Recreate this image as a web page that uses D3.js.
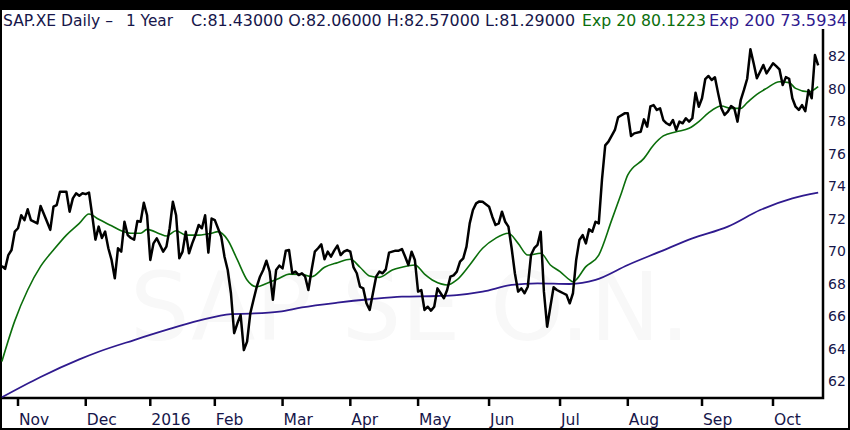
<!DOCTYPE html>
<html>
<head>
<meta charset="utf-8">
<script src="https://cdn.jsdelivr.net/npm/d3@7"></script>
<style>
  body { margin: 0; background: #000; }
  svg { display: block; }
  text { font-family: "DejaVu Sans", Verdana, sans-serif; white-space: pre; }
</style>
</head>
<body>
<svg id="chart"></svg>
<script>
// trading day index (0 = 26 Oct 2015) and closing price
let closeDay = [0,1,2,3,4,5,6,7,8,9,11,12,14,15,16,17,18,20,21,22,23,24,25,26,27,28,29,30,31,32,33,34,35,36,37,38,39,40,41,42,43,44,45,46,47,48,50,51,52,53,54,55,56,57,58,59,60,61,62,63,64,65,66,68,69,70,71,72,73,74,75,76,77,78,79,80,81,82,83,84,85,86,87,88,89,90,91,92,93,94,95,96,97,98,99,100,101,102,103,104,105,106,107,108,109,110,111,112,113,114,115,116,117,118,119,120,122,123,124,125,126,127,128,129,130,131,132,133,134,135,136,137,138,139,140,141,142,143,144,145,146,147,148,149,151,152,153,154,155,156,157,158,159,160,161,162,163,164,165,166,167,168,169,170,171,172,173,174,175,176,177,178,179,180,181,182,183,184,185,186,187,188,190,191,193,194,195,196,198,199,200,201,202,203,204,205,206,207,208,209,210,211,212,213,214,215,216,217,218,219,220,221,222,223,224,225,226,227,228,229,230,231,232,233,234,235,236,237,238,239,240,241,242,243,244,245,246,247,248,249,250,251,252,253];
let closeVal = [69.08,68.9,69.75,70.06,71.19,71.4,72.2,71.9,72.57,71.9,71.7,72.77,71.8,71.3,72.73,72.83,73.65,73.65,72.42,73.24,73.55,73.4,73.55,73.5,73.6,72.2,70.7,71.5,70.8,71.2,70.17,69.45,68.32,70.17,69.96,71.8,70.98,70.8,70.7,71.85,71.8,72.97,72.2,69.45,70.47,70.78,69.96,70.27,71.4,73.03,72.2,69.55,69.96,71.19,69.86,70.47,70.98,71.6,71.4,72.2,69.9,72.0,71.9,70.88,69.65,68.83,67.4,64.94,65.55,66.06,63.9,64.42,66.17,67.0,67.8,68.42,68.83,69.4,68.73,67.0,68.83,69.1,68.93,70.02,70.06,68.63,68.73,68.52,68.63,68.42,67.6,68.83,69.96,70.17,70.41,69.49,69.96,69.65,70.02,70.33,69.75,69.96,70.06,69.96,68.99,68.63,67.8,67.7,66.78,66.37,67.4,68.42,68.73,68.63,68.87,69.9,70.02,70.02,70.12,69.65,69.14,69.96,69.45,67.5,67.6,66.37,66.57,66.33,66.57,67.7,67.4,67.09,67.6,68.42,68.5,68.73,69.34,69.55,70.27,71.7,72.52,72.93,73.05,73.03,72.73,72.11,71.6,71.7,72.42,71.8,71.5,70.17,68.63,67.5,67.7,67.4,67.8,69.75,70.17,70.37,71.19,67.5,65.34,66.57,67.77,67.6,67.5,67.4,67.3,66.78,67.4,69.45,70.68,70.98,70.47,71.33,71.19,71.8,71.7,74.4,76.5,76.73,77.45,78.23,78.47,78.47,77.08,77.24,77.34,78.1,77.65,78.9,78.98,78.68,78.78,78.06,77.86,77.75,78.06,77.45,77.96,77.86,78.17,77.96,78.17,79.74,78.88,79.4,80.57,80.77,80.52,80.69,79.7,78.78,78.37,78.57,78.92,78.78,77.96,79.29,79.91,80.6,82.41,81.55,80.63,81.03,81.45,80.93,81.24,81.55,81.38,81.18,80.22,80.7,80.6,79.4,78.88,78.68,78.98,78.6,79.9,79.4,82.06,81.43];

// Exp 20
let ema20Day = [0,4,8,12,16,20,24,27,30,34,37,40,43,45,49,51,54,57,61,65,67,70,73,76,79,82,86,89,93,96,100,104,108,111,114,117,121,124,128,131,134,138,141,145,149,153,157,160,163,167,170,173,176,177,181,185,189,192,194,199,202,205,209,213,216,219,223,226,229,231,234,237,241,244,246,250,253];
let ema20Val = [63.2,65.7,67.6,69.05,70.06,70.98,71.7,72.28,71.95,71.55,71.25,71.09,71.09,71.33,71.05,70.92,71.25,70.98,70.98,71.09,71.19,70.68,69.45,68.22,67.8,68.0,68.32,68.58,68.56,68.42,69.0,69.28,69.49,69.0,68.46,68.38,68.83,69.0,69.14,68.58,68.15,67.91,68.22,69.14,70.17,70.78,71.09,70.47,69.75,69.86,69.14,68.73,68.22,68.11,69.04,69.75,71.9,73.55,74.68,75.7,76.52,77.08,77.34,77.55,77.96,78.5,78.92,78.78,78.78,79.13,79.64,80.01,80.42,80.36,80.01,79.8,80.12];

// Exp 200
let ema200Day = [0,12,24,30,41,51,61,71,77,86,93,104,114,124,135,141,149,158,166,176,184,194,204,214,225,235,245,253];
let ema200Val = [61.0,62.25,63.33,63.8,64.52,65.14,65.71,66.12,66.15,66.27,66.53,66.82,67.03,67.19,67.23,67.29,67.5,67.91,68.01,67.97,68.22,69.14,69.96,70.78,71.5,72.52,73.24,73.59];

let monthLabels = ["Nov", "Dec", "2016", "Feb", "Mar", "Apr", "May", "Jun", "Jul", "Aug", "Sep", "Oct"];
let monthDay = [5, 26, 46, 66, 87, 108, 129, 151, 173, 194, 217, 239];
let priceTicks = [62, 64, 66, 68, 70, 72, 74, 76, 78, 80, 82];

let headerParts = ["SAP.XE Daily \u2013", "1 Year", "C:81.43000 O:82.06000 H:82.57000 L:81.29000", "Exp 20 80.1223", "Exp 200 73.5934"];

let W = 850, H = 430;
let navy = "#16164a", green = "#0b6e0b", purple = "#2f1a8e";

let svg = d3.select("#chart").attr("width", W).attr("height", H);

// black frame with white page
svg.append("rect").attr("width", W).attr("height", H).attr("fill", "#000");
svg.append("rect").attr("x", 2).attr("y", 10).attr("width", W - 4).attr("height", H - 12).attr("fill", "#fff");

let x = d3.scaleLinear().domain([5, 239]).range([18, 773]);
let y = d3.scaleLinear().domain([62, 82]).range([381, 56]);

// watermark
svg.append("text")
    .attr("x", 130).attr("y", 340)
    .attr("font-size", 95)
    .attr("textLength", 560)
    .attr("lengthAdjust", "spacingAndGlyphs")
    .attr("fill", "#f8f8f8")
    .text("SAP SE O.N.");

// plot border (right + bottom)
svg.append("path")
    .attr("d", "M823,29 V398 H2")
    .attr("fill", "none").attr("stroke", "#000").attr("stroke-width", 2.5);

// x axis ticks and month labels
let xAxis = svg.append("g");
monthDay.forEach(function (d, i) {
    xAxis.append("line")
        .attr("x1", x(d)).attr("x2", x(d))
        .attr("y1", 398).attr("y2", 406)
        .attr("stroke", "#000").attr("stroke-width", 2.5);
    xAxis.append("text")
        .attr("x", x(d) + 1).attr("y", 425)
        .attr("font-size", 15.5)
        .attr("fill", navy)
        .text(monthLabels[i]);
});

// y labels on the right
priceTicks.forEach(function (v) {
    svg.append("text")
        .attr("x", 828).attr("y", y(v) + 5)
        .attr("font-size", 14)
        .attr("fill", navy)
        .text(v);
});

function toPoints(days, vals) {
    let pts = [];
    for (let i = 0; i < days.length; i++) {
        pts.push({day: days[i], v: vals[i]});
    }
    return pts;
}

let smooth = d3.line().x(d => x(d.day)).y(d => y(d.v)).curve(d3.curveMonotoneX);
let straight = d3.line().x(d => x(d.day)).y(d => y(d.v));

svg.append("path")
    .datum(toPoints(ema200Day, ema200Val))
    .attr("d", smooth)
    .attr("fill", "none").attr("stroke", purple).attr("stroke-width", 1.8);

svg.append("path")
    .datum(toPoints(ema20Day, ema20Val))
    .attr("d", smooth)
    .attr("fill", "none").attr("stroke", green).attr("stroke-width", 1.6);

svg.append("path")
    .datum(toPoints(closeDay, closeVal))
    .attr("d", straight)
    .attr("fill", "none").attr("stroke", "#000").attr("stroke-width", 2.5)
    .attr("stroke-linejoin", "round");

// header line
let headerX = [3, 126, 191, 582, 709];
let headerLen = [110, 47, 384, 124, 138];
let headerColor = [navy, navy, navy, green, purple];
headerParts.forEach(function (t, i) {
    svg.append("text")
        .attr("x", headerX[i]).attr("y", 26)
        .attr("font-size", 16)
        .attr("textLength", headerLen[i])
        .attr("lengthAdjust", "spacingAndGlyphs")
        .attr("fill", headerColor[i])
        .text(t);
});
</script>
</body>
</html>
